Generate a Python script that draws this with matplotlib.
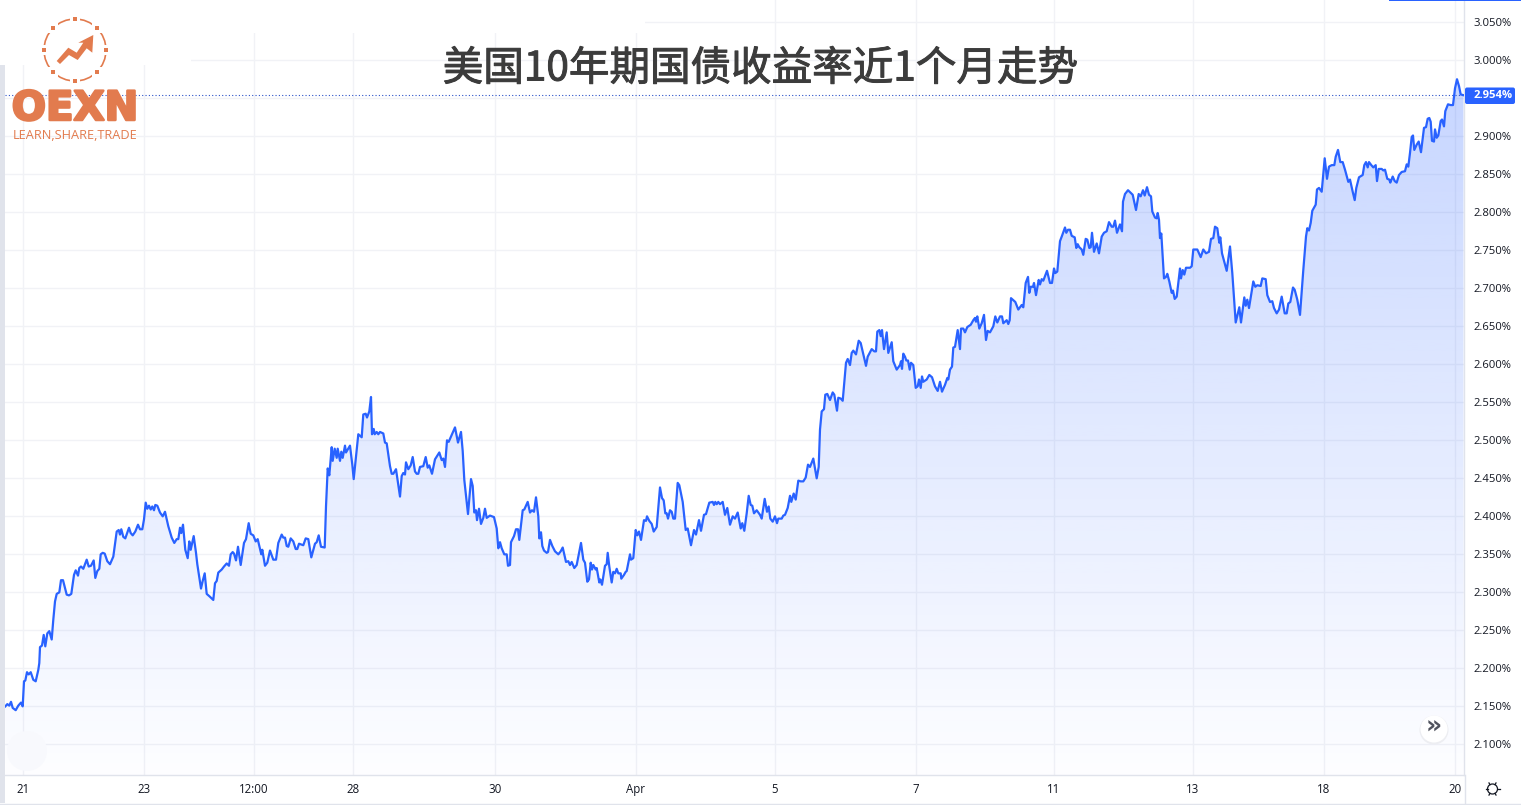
import numpy as np
import matplotlib
matplotlib.use("Agg")
import matplotlib.pyplot as plt
import matplotlib.patheffects as pe
from matplotlib.patches import Polygon, Circle, Rectangle, FancyBboxPatch

plt.rcParams['font.family'] = ['Noto Sans CJK SC', 'DejaVu Sans']

TITLE = "美国10年期国债收益率近1个月走势"
LAST_VALUE = 2.954
y_ticks = [2.10, 2.15, 2.20, 2.25, 2.30, 2.35, 2.40, 2.45, 2.50, 2.55, 2.60, 2.65, 2.70, 2.75, 2.80, 2.85, 2.90, 2.95, 3.00, 3.05]
time_labels = ["21", "23", "12:00", "28", "30", "Apr", "5", "7", "11", "13", "18", "20"]
time_bars = [18, 139, 249, 348, 490, 631, 770, 911, 1049, 1188, 1319, 1450]

bars_a = [0.3,2.3,4.3,6,7.7,10.7,13.3,16,17.7,19,20.3,22,23.7,25.7,28.3,30.7,33.3,34.3,35,37,38.7,40.3,42.3,44.3,46.7,48.3,50,51.7,54.3,56,58,60,61.7,64,66.3,69,70.7,73,74.3,76,78.3,81.7,83.7,86,88.7,90.3,92.3,94.3,95.7,97.7,99.7,102.3,105,108.3,111.7,113.7,115,116.3,118.3,120.3,124,125.7,127.7,130.3,133,135,137.3,139,140.7,142.3,144,145.7,147.3,149,150.3,152.3,155,157.7,160,163.3,166.7,169.3,171.7,173.3,175,176.3,178,180.3,182.7,184.3,185.7,188.7,191,192.3,196,197.7,199.7,201.7,204.3,208.3,210,211.7,213.3,216.7,219,221.7,224,225.7,227.7,229,231,233,235.7,239,241,243.7,245.7,248.3,250.7,252.7,256.3,257.3,260,262.3,265,268.3,271,273.3,276.7,278.3,280,281.7,283.3,285.7,288.3,290.7,292.3,294,298.3,300.7,303.3,306.3,310,311.7,313.7]
yields_a = [2.150,2.153,2.151,2.156,2.148,2.145,2.151,2.155,2.150,2.183,2.184,2.195,2.192,2.195,2.185,2.183,2.198,2.207,2.228,2.230,2.244,2.229,2.246,2.249,2.238,2.264,2.288,2.298,2.300,2.316,2.316,2.306,2.297,2.296,2.298,2.323,2.329,2.322,2.332,2.334,2.331,2.343,2.334,2.335,2.342,2.319,2.328,2.331,2.350,2.352,2.351,2.341,2.337,2.347,2.380,2.382,2.376,2.383,2.373,2.371,2.385,2.378,2.375,2.380,2.389,2.383,2.383,2.396,2.418,2.410,2.414,2.409,2.413,2.408,2.415,2.414,2.405,2.400,2.406,2.387,2.372,2.365,2.370,2.370,2.385,2.378,2.389,2.356,2.345,2.367,2.356,2.374,2.352,2.337,2.305,2.315,2.325,2.298,2.295,2.290,2.312,2.315,2.326,2.330,2.334,2.338,2.335,2.350,2.353,2.351,2.342,2.360,2.336,2.365,2.370,2.391,2.377,2.375,2.367,2.370,2.350,2.356,2.335,2.339,2.355,2.343,2.343,2.365,2.376,2.372,2.372,2.361,2.360,2.371,2.367,2.357,2.357,2.364,2.362,2.371,2.370,2.346,2.364,2.366,2.375]

bars_b = [316,319.7,321,322.7,324.3,326.7,327.7,329.7,331.7,332.7,335,336.3,337.7,340,341,345,347.3,348.7,353.3,356.7,358.3,360.7,362,364.3,366,367,368.7,369.7,371.7,373.3,375,378.3,380,381.7,385,386.7,388.3,391,395,396.7,398.3,400,401,403.3,405.7,407.7,410,411.7,413.3,415,418.3,420.7,422.7,424.3,427,430,434.3,436.7,438.3,440,442,443.7,450,453,456,457.7,459.3,463,466,467.7,469.3,471,472,474,476,478.3,480,481.7,485,489,491.7,493.3,495,496.7,499.3,501.7,503,505,506,509,511,513,514.3,517.7,519.3,522.7,525,527,529,531,533.3,534.3,536,537.3,539,541.7,543,545,547.3,550,553.3,555.7,557.7,561,563.3,565,566.7,569.3,571.7,573.3,576,578.3,580,582.3,584,585.7,587,588.3,590.7,591.7,594.3,595.3,597,600,601.7,602.7,604.3,606.7,608.3,610,611.7,613.3,615.7,616.3,619,620.7,621.7,625,626,628.3]
yields_b = [2.360,2.359,2.413,2.463,2.454,2.491,2.473,2.489,2.477,2.489,2.473,2.485,2.477,2.493,2.484,2.493,2.468,2.449,2.508,2.504,2.534,2.535,2.530,2.538,2.557,2.508,2.515,2.508,2.511,2.508,2.511,2.509,2.497,2.496,2.466,2.456,2.456,2.462,2.426,2.453,2.457,2.455,2.471,2.462,2.467,2.478,2.459,2.456,2.456,2.465,2.466,2.478,2.464,2.467,2.456,2.475,2.484,2.474,2.476,2.465,2.500,2.498,2.517,2.497,2.511,2.486,2.448,2.403,2.449,2.440,2.405,2.408,2.395,2.410,2.390,2.398,2.410,2.398,2.401,2.399,2.384,2.358,2.366,2.358,2.350,2.350,2.335,2.336,2.366,2.374,2.383,2.383,2.369,2.408,2.409,2.419,2.405,2.408,2.406,2.425,2.400,2.371,2.379,2.361,2.355,2.352,2.353,2.369,2.361,2.354,2.350,2.354,2.359,2.340,2.341,2.336,2.340,2.332,2.336,2.347,2.365,2.343,2.339,2.314,2.317,2.339,2.330,2.336,2.330,2.332,2.313,2.317,2.310,2.335,2.337,2.352,2.334,2.313,2.327,2.325,2.331,2.325,2.325,2.318,2.323,2.327,2.328,2.350,2.343,2.345]

bars_c = [630.7,632.3,634,636,639,641,642,644.3,646.7,648.7,651.7,655,657,658.7,660.3,661.7,663,665,666.7,668.3,670,672.7,674.3,677.7,680.7,682.7,686,689,691,694,696,699,701,704.3,707.7,709,710.3,711.7,713.3,715,717.7,720,722.3,725,727.7,730,732.7,735.7,737.3,739.3,741.7,743.7,745.7,747.3,749,751.7,755,756.7,759.7,762,763.7,765.3,767.7,770,772,773.3,776.7,778.3,780,782.7,785,786.3,788.7,790.7,793.3,795.7,798.3,800.7,803,805,808.3,811.7,813.7,815,816.7,819,820.3,822.3,825,827.7,829.3,832,833.3,835.7,837.7,841,842.7,845,846.7,848.3,851,853.7,855.7,858.3,861,862.7,866.7,869.3,871,872.3,874.3,875.7,877,879,881.7,883.3,886.7,888.3,891.7,895,896,897,898.3,900,901.3,903,904.7,906,908.3,910.7,912.7,914,915.7,917,918.3,921.7,924.3,927,930,932.7,935,937,940,942.3,943.3,945,947]
yields_c = [2.382,2.375,2.380,2.369,2.395,2.394,2.400,2.394,2.390,2.380,2.386,2.438,2.424,2.421,2.404,2.404,2.397,2.408,2.406,2.397,2.397,2.444,2.441,2.419,2.382,2.384,2.362,2.382,2.376,2.395,2.381,2.402,2.403,2.418,2.419,2.415,2.419,2.416,2.419,2.416,2.419,2.402,2.411,2.389,2.400,2.397,2.405,2.384,2.391,2.381,2.404,2.427,2.415,2.414,2.404,2.408,2.402,2.397,2.423,2.406,2.413,2.397,2.393,2.400,2.391,2.397,2.397,2.401,2.402,2.411,2.427,2.419,2.430,2.422,2.447,2.446,2.446,2.451,2.468,2.465,2.476,2.450,2.465,2.514,2.538,2.541,2.560,2.561,2.553,2.563,2.560,2.539,2.556,2.555,2.552,2.602,2.607,2.599,2.615,2.618,2.613,2.631,2.628,2.613,2.598,2.610,2.620,2.617,2.617,2.643,2.645,2.637,2.645,2.620,2.642,2.615,2.629,2.604,2.593,2.599,2.604,2.594,2.614,2.610,2.605,2.605,2.593,2.602,2.599,2.569,2.571,2.580,2.569,2.584,2.577,2.580,2.586,2.583,2.571,2.565,2.577,2.564,2.573,2.582,2.580,2.593,2.597]

bars_d = [948.3,950,952.7,955,956,958.3,960,962.3,965.7,968.3,970,971,972.3,974.3,976.7,979,981,982.7,985,988.3,990.3,992.3,995,997,998.3,1001.7,1003.3,1004.7,1006,1010.3,1013.3,1016.7,1018.3,1020.7,1023,1024.3,1025.7,1028,1029,1031,1033.7,1035,1036.7,1038.3,1042,1045,1047,1049,1050.3,1052.3,1055,1057,1060,1061.3,1063,1065,1066.7,1069.7,1071.3,1072.7,1074.3,1076.7,1078.3,1080.7,1082.3,1084.3,1085.7,1087,1089,1091.7,1094,1096.7,1099,1101.7,1104,1106.7,1108.3,1110,1112,1115,1117,1118,1120,1123,1127.7,1131,1133.7,1135.7,1138,1139.7,1142,1144,1146,1147.3,1150,1151.7,1152.7,1154,1155,1156.3,1159,1161,1162.3,1164.3,1166.7,1168,1169.7,1171.7,1175,1176,1177.7,1179.3,1181,1185,1186.7,1188.3,1192.3,1195.7,1198.3,1201,1204,1206,1208.3,1210,1212.3,1214.3,1215.3]
yields_d = [2.622,2.623,2.645,2.620,2.647,2.647,2.642,2.649,2.652,2.658,2.661,2.656,2.663,2.647,2.654,2.665,2.632,2.644,2.642,2.650,2.663,2.655,2.663,2.663,2.654,2.658,2.653,2.658,2.687,2.682,2.672,2.678,2.675,2.707,2.715,2.694,2.702,2.702,2.707,2.691,2.711,2.705,2.712,2.710,2.723,2.707,2.707,2.726,2.720,2.722,2.762,2.769,2.780,2.773,2.777,2.777,2.769,2.767,2.753,2.758,2.754,2.751,2.744,2.765,2.764,2.753,2.754,2.773,2.748,2.759,2.746,2.768,2.773,2.775,2.787,2.781,2.781,2.789,2.773,2.784,2.775,2.814,2.824,2.829,2.823,2.803,2.824,2.821,2.829,2.822,2.833,2.823,2.821,2.801,2.793,2.792,2.799,2.790,2.766,2.772,2.713,2.715,2.719,2.709,2.694,2.697,2.686,2.689,2.726,2.713,2.724,2.718,2.727,2.727,2.729,2.751,2.751,2.741,2.751,2.746,2.748,2.765,2.766,2.781,2.779,2.760,2.767]

bars_e = [1217,1221.7,1225,1227.3,1230.7,1234.3,1236,1239.3,1240.7,1242.3,1244,1248.3,1250.3,1252.3,1255.7,1257.3,1260.7,1262.3,1265,1267.3,1269,1271.7,1274,1276.7,1279.7,1281.7,1283.3,1285.3,1288,1289.7,1292.3,1295,1298.3,1301,1302.3,1304,1305.7,1307.3,1310.7,1312,1314,1316.7,1319.7,1322,1324,1326.7,1329.3,1330.7,1333,1335.3,1337.7,1340,1343.3,1345,1347.7,1349.7,1351.3,1354,1357.7,1359.3,1361,1362.7,1364,1366.3,1368.3,1370.7,1372,1373.7,1376.7,1378.3,1380,1382.3,1384.3,1385.3,1387.7,1389.7,1391.7,1394,1396.7,1400,1401.7,1403.3,1405,1406.7,1408,1409.3,1411.7,1413.7,1416,1419,1421,1422.7,1424.3,1425.7,1427,1429,1430,1431.7,1433.3,1435.7,1437,1439,1440.3,1443,1445.7,1448,1450,1452,1454,1455.7,1458.5]
yields_e = [2.746,2.723,2.755,2.720,2.655,2.675,2.655,2.688,2.677,2.685,2.674,2.709,2.702,2.704,2.703,2.713,2.712,2.691,2.682,2.683,2.674,2.667,2.672,2.689,2.667,2.667,2.680,2.682,2.701,2.698,2.685,2.665,2.724,2.768,2.779,2.776,2.786,2.802,2.810,2.830,2.832,2.827,2.871,2.844,2.860,2.862,2.862,2.873,2.882,2.866,2.866,2.856,2.840,2.843,2.827,2.816,2.832,2.846,2.849,2.862,2.866,2.859,2.866,2.862,2.859,2.862,2.841,2.857,2.857,2.855,2.856,2.844,2.843,2.839,2.847,2.841,2.839,2.849,2.853,2.854,2.863,2.860,2.878,2.899,2.901,2.882,2.889,2.893,2.879,2.911,2.912,2.923,2.924,2.919,2.894,2.893,2.909,2.898,2.901,2.920,2.922,2.913,2.933,2.942,2.941,2.941,2.963,2.975,2.966,2.955,2.954]

bars = np.array(bars_a + bars_b + bars_c + bars_d + bars_e)
yields = np.array(yields_a + yields_b + yields_c + yields_d + yields_e)

W, H = 1521, 805
BLUE = "#2962FF"
GRID = "#F1F2F6"
AXIS = "#E0E3EB"
TEXT = "#131722"
ORANGE = "#E27B4E"
TICK_FONT = ['Open Sans', 'DejaVu Sans']

fig = plt.figure(figsize=(W / 100, H / 100), dpi=100, facecolor="white")

# main pane: x 5..1464, y 0..775 in pixels
ax = fig.add_axes([5 / W, 1 - 775 / H, 1459 / W, 775 / H])
ax.set_xlim(0, 1459)
px_per_unit = 760.2
ax.set_ylim(2.10 - (775 - 744.4) / px_per_unit, 2.10 + 744.4 / px_per_unit)
ax.set_facecolor("white")
for s in ("top", "left"):
    ax.spines[s].set_visible(False)
for s in ("right", "bottom"):
    ax.spines[s].set_color(AXIS)
    ax.spines[s].set_linewidth(1.0)

ax.yaxis.tick_right()
ax.set_yticks(y_ticks)
# the 2.950% label sits under the last-price tag, so it stays blank like the reference
ax.set_yticklabels(["" if abs(v - 2.95) < 1e-6 else f"{v:.3f}%" for v in y_ticks],
                   family=TICK_FONT, fontsize=8.1, color=TEXT)
ax.set_xticks(time_bars)
ax.set_xticklabels(time_labels, family=TICK_FONT, fontsize=8.3, color=TEXT)
ax.tick_params(axis="y", length=0, pad=7)
ax.tick_params(axis="x", length=0, pad=6)
ax.grid(True, color=GRID, linewidth=1.0, zorder=0)
ax.set_axisbelow(True)

# gradient area
ylo, yhi = ax.get_ylim()
top_val = yields.max()
n = 256
alpha = np.interp(np.linspace(top_val, ylo, n), [ylo, top_val], [0.008, 0.265])
rgba = np.zeros((n, 1, 4))
rgba[..., 0], rgba[..., 1], rgba[..., 2] = 41 / 255, 98 / 255, 1.0
rgba[..., 3] = alpha[:, None]
im = ax.imshow(rgba, extent=(0, 1459, ylo, top_val), origin="upper", aspect="auto", zorder=1, interpolation="bilinear")
ax.set_xlim(0, 1459)
ax.set_ylim(ylo, yhi)
poly = Polygon(np.column_stack([np.r_[bars[0], bars, bars[-1]], np.r_[ylo, yields, ylo]]),
               closed=True, transform=ax.transData, facecolor="none", edgecolor="none")
ax.add_patch(poly)
im.set_clip_path(poly)

ax.plot(bars, yields, color=BLUE, linewidth=1.6, zorder=3, solid_joinstyle="round")
ax.axhline(LAST_VALUE, color="#2a50c8", linewidth=0.8, linestyle=(0, (1, 2)), zorder=2.5)

# overlay in pixel coordinates for the page furniture
ov = fig.add_axes([0, 0, 1, 1], zorder=5)
ov.set_xlim(0, W)
ov.set_ylim(H, 0)
ov.axis("off")
ov.patch.set_alpha(0)

# white masks of the pasted banner
ov.add_patch(Rectangle((0, 0), 191, 65, fc="white", ec="none"))
ov.add_patch(Rectangle((0, 0), 645, 33, fc="white", ec="none"))
# left strip, bottom rule, top strip
ov.add_patch(Rectangle((0, 65), 4.5, 738, fc=AXIS, ec="none"))
ov.plot([0, W], [803.5, 803.5], color=AXIS, lw=1.0)
ov.plot([1464.5, 1464.5], [775, 803.5], color=AXIS, lw=1.0)
ov.add_patch(Rectangle((1389, 0), 132, 1.5, fc=BLUE, ec="none"))
# faint circle bottom-left
ov.add_patch(Circle((27, 751), 20, fc="#F8F9FD", ec="none", zorder=1))
# scroll button
ov.add_patch(Circle((1434, 730), 14.5, fc="#EDEEF2", ec="none"))
ov.add_patch(Circle((1434, 729), 13.5, fc="white", ec="none"))
ov.text(1434, 727, "»", ha="center", va="center", fontsize=18, color="#50535E", family=['DejaVu Sans'], fontweight="bold")
# gear icon
ov.add_patch(Circle((1492.5, 789), 5, fc="none", ec=TEXT, lw=0.9))
for a in np.deg2rad(np.arange(0, 360, 60)):
    ov.plot([1492.5 + 5 * np.cos(a), 1492.5 + 7 * np.cos(a)], [789 + 5 * np.sin(a), 789 + 7 * np.sin(a)], color=TEXT, lw=0.9)

# last price tag
ov.add_patch(FancyBboxPatch((1465, 87.5), 50, 16.5, boxstyle="round,pad=0,rounding_size=2", fc=BLUE, ec="none"))
ov.text(1474, 96, f"{LAST_VALUE:.3f}%", ha="left", va="center", fontsize=8.1, color="white", fontweight="bold", family=TICK_FONT)

# title
ov.text(760, 69, TITLE, ha="center", va="center", fontsize=29.2, color="#3c3c3c", family=['Noto Sans CJK SC', 'DejaVu Sans'],
        path_effects=[pe.withStroke(linewidth=0.7, foreground="#3c3c3c")])

# logo
cx, cy, r = 75, 50, 31
ov.add_patch(Circle((cx, cy), r, fc="none", ec=ORANGE, lw=1.2))
for a in np.deg2rad(np.arange(0, 360, 45)):
    px, py = cx + r * np.cos(a), cy + r * np.sin(a)
    ov.add_patch(Rectangle((px - 5, py - 5), 10, 10, fc="white", ec="none", zorder=3))
    ov.add_patch(Rectangle((px - 2.2, py - 2.2), 4.4, 4.4, fc=ORANGE, ec="none", zorder=4))
arrow = [(56.7, 61), (68.3, 47.7), (76.7, 52.7), (83.3, 42.7), (78.3, 42.7), (93.3, 35), (92.3, 52.7), (86.7, 48.3), (77.7, 60), (69, 55), (60, 64)]
ov.add_patch(Polygon(arrow, closed=True, fc=ORANGE, ec="none"))
ov.text(75, 109, "OEXN", ha="center", va="center", fontsize=29, color=ORANGE, fontweight="bold", family=['DejaVu Sans'],
        path_effects=[pe.withStroke(linewidth=1.8, foreground=ORANGE)])
ov.text(75, 135.5, "LEARN,SHARE,TRADE", ha="center", va="center", fontsize=9.2, color=ORANGE, family=['Open Sans', 'DejaVu Sans'])

fig.savefig("out.png", dpi=100)
